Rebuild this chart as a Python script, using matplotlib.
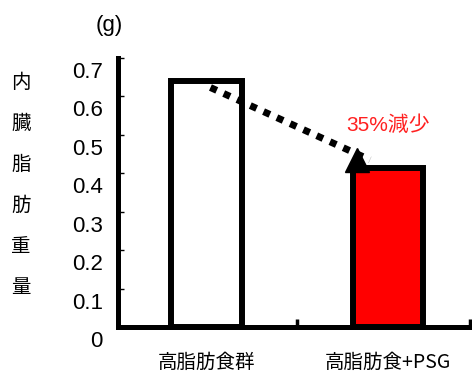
import matplotlib
matplotlib.use("Agg")
import matplotlib.pyplot as plt
import matplotlib.transforms as mtransforms

plt.rcParams['font.family'] = ['Liberation Sans', 'Noto Sans CJK JP', 'DejaVu Sans']

# data
groups = ["高脂肪食群", "高脂肪食+PSG"]
weights = [0.64, 0.415]
colors = ["white", "#ff0000"]
yticks = [0, 0.1, 0.2, 0.3, 0.4, 0.5, 0.6, 0.7]
ytick_labels = ["0", "0.1", "0.2", "0.3", "0.4", "0.5", "0.6", "0.7"]
reduction_label = "35%減少"

fig = plt.figure(figsize=(4.72, 3.76), dpi=100)
ax = fig.add_axes([0.25, 0.130, 0.745, 0.716])

x = [0, 1]
ax.bar(x, weights, width=0.39, color=colors, edgecolor="black", linewidth=4.3, zorder=3)

ax.set_xlim(-0.49, 1.45)
ax.set_ylim(0, 0.7)

for side in ("top", "right"):
    ax.spines[side].set_visible(False)
for side in ("left", "bottom"):
    ax.spines[side].set_linewidth(3.6)
    ax.spines[side].set_capstyle("projecting")

ax.set_yticks(yticks)
ax.set_yticklabels(ytick_labels, fontsize=16)
ax.tick_params(axis="y", direction="in", length=4, width=1, pad=11)
offset = mtransforms.ScaledTranslation(0, -12 / 100, fig.dpi_scale_trans)
for lab in ax.get_yticklabels():
    lab.set_transform(lab.get_transform() + offset)

ax.set_xticks(x)
ax.set_xticklabels(groups, fontsize=14, family=['Noto Sans CJK JP', 'DejaVu Sans'])
ax.tick_params(axis="x", which="major", length=0, pad=18)
ax.set_xticks([0.5, 1.45], minor=True)
ax.tick_params(axis="x", which="minor", direction="in", length=6, width=2.5)

# dotted arrow from group 1 top to group 2 top
x0, y0 = x[0] + 0.02, weights[0] - 0.017
x1, y1 = x[1] - 0.1, weights[1] + 0.02
ax.plot([x0, x1], [y0, y1], color="black", lw=5, linestyle=(0, (1, 1.1)),
        dash_capstyle="butt", zorder=4)
ax.plot([x1 - 0.07], [y1 - 0.0], marker="^", markersize=17, color="black",
        linestyle="none", zorder=5)

ax.text(1.0, 0.525, reduction_label, color="#ff2020", fontsize=15,
        ha="center", va="center", family=['Liberation Sans', 'Noto Sans CJK JP'])

fig.text(109 / 472, 1 - 25 / 376, "(g)", fontsize=16, ha="center", va="center")
fig.text(21 / 472, 1 - 185 / 376, "\n".join("内臓脂肪重量"), fontsize=14,
         ha="center", va="center", linespacing=2.25,
         family=['Noto Sans CJK JP', 'DejaVu Sans'])

fig.savefig("out.png", dpi=100)
